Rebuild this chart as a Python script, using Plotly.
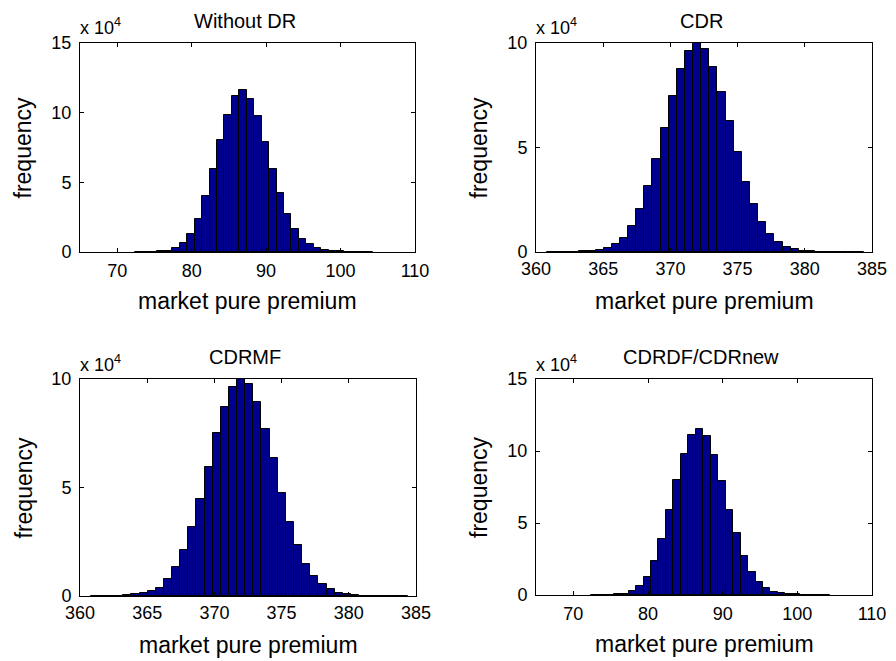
import plotly.graph_objects as go

# ---------------- data (frequency in units of 10^4) ----------------
titles = ["Without DR", "CDR", "CDRMF", "CDRDF/CDRnew"]

# Without DR : 32 bins, width 1.0, first bin centre 72.9
nodr_start, nodr_width = 72.9, 1.0
nodr_freq = [0.02, 0.02, 0.03, 0.05, 0.10,
             0.29, 0.67, 1.27, 2.40, 4.00, 5.96, 8.05, 9.85, 11.20, 11.60,
             10.96, 9.73, 7.90, 5.96, 4.23, 2.76, 1.63, 0.91, 0.55, 0.27,
             0.12, 0.06, 0.04, 0.03, 0.02, 0.02, 0.01]

# CDR : 39 bins, width 0.605, first bin centre 361.1
cdr_start, cdr_width = 361.1, 0.605
cdr_freq = [0.005, 0.005, 0.01, 0.015, 0.03, 0.06,
            0.10, 0.19, 0.37, 0.69, 1.25, 2.08, 3.15, 4.45, 5.92, 7.46,
            8.77, 9.60, 10.00, 9.73, 8.85, 7.65, 6.26, 4.77, 3.36, 2.32,
            1.44, 0.85, 0.48, 0.26, 0.13, 0.06,
            0.03, 0.02, 0.01, 0.007, 0.005, 0.003, 0.002]

# CDRMF : same binning as CDR
cdrmf_start, cdrmf_width = 361.1, 0.605
cdrmf_freq = [0.005, 0.005, 0.01, 0.02, 0.04, 0.07,
              0.12, 0.25, 0.38, 0.77, 1.32, 2.12, 3.19, 4.47, 5.96, 7.53,
              8.72, 9.62, 10.00, 9.77, 8.96, 7.68, 6.34, 4.76, 3.42, 2.35,
              1.46, 0.92, 0.55, 0.32, 0.15, 0.07,
              0.04, 0.02, 0.01, 0.007, 0.005, 0.003, 0.002]

# CDRDF/CDRnew : same binning as Without DR
cdrdf_start, cdrdf_width = 72.9, 1.0
cdrdf_freq = [0.02, 0.02, 0.03, 0.05, 0.10,
              0.30, 0.63, 1.23, 2.39, 3.89, 5.91, 8.00, 9.80, 11.13, 11.52,
              11.01, 9.69, 7.95, 5.91, 4.29, 2.73, 1.62, 0.93, 0.51, 0.23,
              0.12, 0.06, 0.04, 0.03, 0.02, 0.02, 0.01]

x_ranges = [[65, 110], [360, 385], [360, 385], [65, 110]]
x_ticks = [[70, 80, 90, 100, 110], [360, 365, 370, 375, 380, 385],
           [360, 365, 370, 375, 380, 385], [70, 80, 90, 100, 110]]
y_ranges = [[0, 15], [0, 10], [0, 10], [0, 15]]
y_ticks = [[0, 5, 10, 15], [0, 5, 10], [0, 5, 10], [0, 5, 10, 15]]
x_label = "market pure premium"
y_label = "frequency"
scale_label = "x 10<sup>4</sup>"

# ---------------- layout helpers ----------------
W, H = 896, 661
def px(x):
    return x / W
def py(y):
    return 1 - y / H

boxes = [(80, 415, 43, 252), (536, 872, 43, 252),
         (80, 416, 379, 596), (536, 872, 379, 595)]

FONT = "Liberation Sans, Arial, Helvetica, sans-serif"
BAR_COLOR = "rgb(0,0,143)"

series = [(nodr_start, nodr_width, nodr_freq),
          (cdr_start, cdr_width, cdr_freq),
          (cdrmf_start, cdrmf_width, cdrmf_freq),
          (cdrdf_start, cdrdf_width, cdrdf_freq)]

fig = go.Figure()
layout = dict(
    width=W, height=H,
    margin=dict(l=0, r=0, t=0, b=0, autoexpand=False),
    paper_bgcolor="white", plot_bgcolor="white",
    showlegend=False, bargap=0,
    font=dict(family=FONT, color="black"),
)

annotations = []
for k, ((x0, x1, y0, y1), (start, width, freq)) in enumerate(zip(boxes, series)):
    n = k + 1
    xa = "x" if n == 1 else f"x{n}"
    ya = "y" if n == 1 else f"y{n}"
    fig.add_trace(go.Bar(
        x0=start, dx=width, y=freq, width=width,
        marker=dict(color=BAR_COLOR, line=dict(color="black", width=1)),
        xaxis=xa, yaxis=ya,
    ))
    axis_common = dict(
        showline=True, linecolor="black", linewidth=1, mirror="ticks",
        ticks="inside", ticklen=4, tickcolor="black", tickwidth=1,
        showgrid=False, zeroline=False, automargin=False,
        tickfont=dict(family=FONT, size=18, color="black"),
    )
    layout["xaxis" if n == 1 else f"xaxis{n}"] = dict(
        axis_common, domain=[px(x0), px(x1)], range=x_ranges[k],
        tickvals=x_ticks[k], anchor=ya, ticklabelstandoff=2 if k in (0, 3) else 0,
    )
    layout["yaxis" if n == 1 else f"yaxis{n}"] = dict(
        axis_common, domain=[py(y1), py(y0)], range=y_ranges[k],
        tickvals=y_ticks[k], anchor=xa, ticklabelstandoff=4,
    )
    cx = (x0 + x1) / 2
    # title
    annotations.append(dict(text=titles[k], x=px(cx - 3), y=py(y0 - 22),
                            xref="paper", yref="paper", showarrow=False,
                            xanchor="center", yanchor="middle",
                            font=dict(family=FONT, size=20, color="black")))
    # scale factor
    annotations.append(dict(text=scale_label, x=px(x0 - 2), y=py(y0 - 16),
                            xref="paper", yref="paper", showarrow=False,
                            xanchor="left", yanchor="middle",
                            font=dict(family=FONT, size=18, color="black")))
    # x label
    annotations.append(dict(text=x_label, x=px(cx), y=py(y1 + 49),
                            xref="paper", yref="paper", showarrow=False,
                            xanchor="center", yanchor="middle",
                            font=dict(family=FONT, size=23, color="black")))
    # y label
    annotations.append(dict(text=y_label, x=px(x0 - 57), y=py((y0 + y1) / 2),
                            xref="paper", yref="paper", showarrow=False,
                            textangle=-90, xanchor="center", yanchor="middle",
                            font=dict(family=FONT, size=23, color="black")))

layout["annotations"] = annotations
fig.update_layout(**layout)
fig.write_html(
    "out.html",
    config={"displayModeBar": False},
    post_script="document.body.style.margin='0';document.body.style.overflow='hidden';",
)
